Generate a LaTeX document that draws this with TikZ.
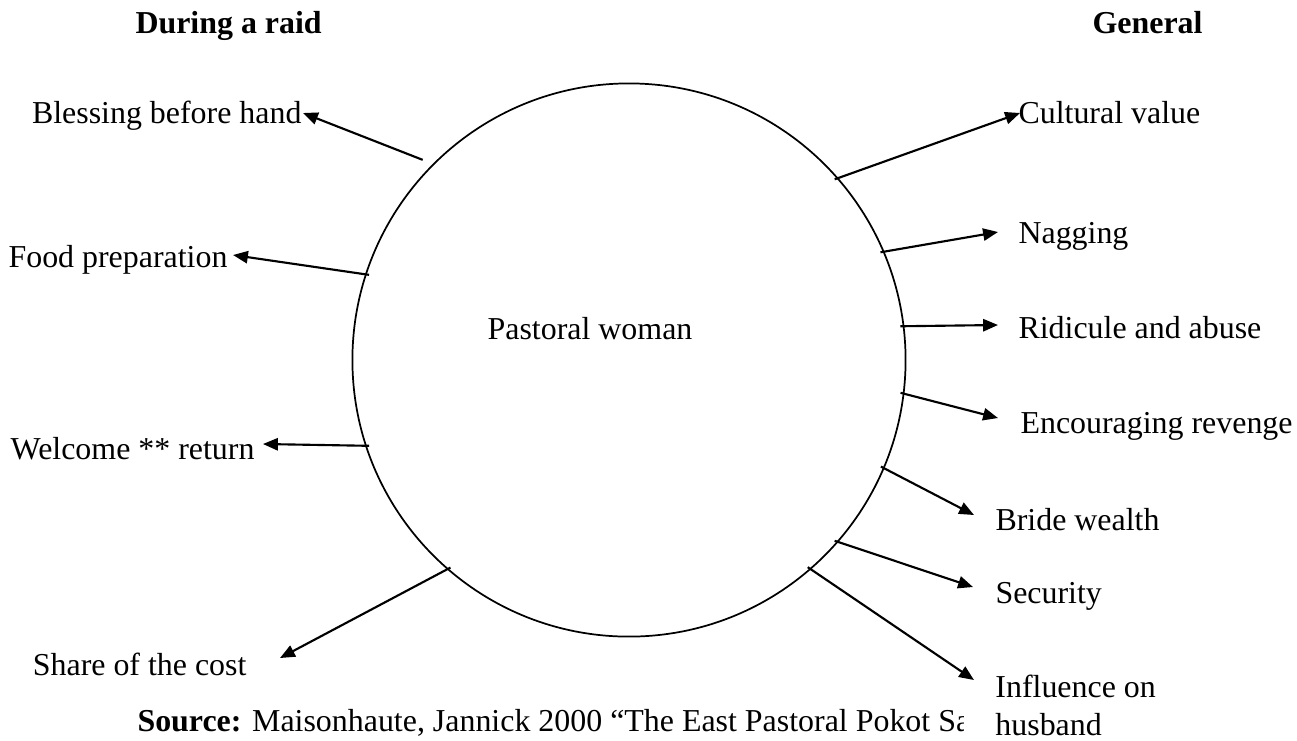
\documentclass[tikz,border=0pt]{standalone}
\usepackage{fontspec}
\setmainfont{Liberation Serif}
\usetikzlibrary{arrows.meta}

\begin{document}
\begin{tikzpicture}[x=0.376pt,y=-0.376pt,
    font=\fontsize{12}{14}\selectfont,
    lbl/.style={inner sep=0pt},
    arr/.style={line width=0.8pt,-{Triangle[length=5.6pt,width=4.6pt]}}]
\useasboundingbox (0,0) rectangle (1297,740);

\node (ring) at (629,360)[circle,draw,line width=0.65pt,minimum size=208pt,inner sep=0pt]{};
\node (woman) at (590,339)[lbl,anchor=base]{Pastoral woman};

\node (raid) at (135,33)[lbl,anchor=base west]{\textbf{During a raid}};
\node (general) at (1203,33)[lbl,anchor=base east]{\textbf{General}};

% during a raid
\foreach \a/\s/\x/\y/\dx/\dy/\n/\t in {135.3/4.1/302/123/1/-10/bless/Blessing before hand,
    162.4/-1.5/228/267/5/-12/food/Food preparation,
    -162.7/-1.5/255/459/8/-15/welcome/Welcome ** return,
    -131.6/-1.5/247/675/33/-17/share/Share of the cost}
{
    \node (\n) at (\x,\y)[lbl,anchor=base east]{\t};
    \draw[arr,shorten <=\s pt] (ring.\a) -- ([shift={(\dx,\dy)}]\n.base east);
}

% general
\foreach \a/\x/\y/\dx/\dy/\n/\t in {41.7/1018/123/2/-10/cult/Cultural value,
    23.3/1018/243/-20/-11/nag/Nagging,
    7.3/1018/338/-20/-13/rid/Ridicule and abuse,
    -7.7/1020/433/-22/-15/rev/Encouraging revenge,
    -23.4/995/530/-21/-15/bride/Bride wealth,
    -41.7/995/603/-22/-16/sec/Security}
{
    \node (\n) at (\x,\y)[lbl,anchor=base west]{\t};
    \draw[arr,shorten <=-1.5pt] (ring.\a) -- ([shift={(\dx,\dy)}]\n.base west);
}

\node (source) at (137,731)[lbl,anchor=base west]{\textbf{Source:} Maisonhaute, Jannick 2000 “The East Pastoral Pokot Sa};
\node (infl) at (963,735)[lbl,fill=white,inner xsep=12pt,anchor=base west,align=left]{Influence on\\husband};
\draw[arr,shorten <=-1.5pt] (ring.-49) -- ([shift={(11,-55)}]infl.base west);

\end{tikzpicture}
\end{document}
